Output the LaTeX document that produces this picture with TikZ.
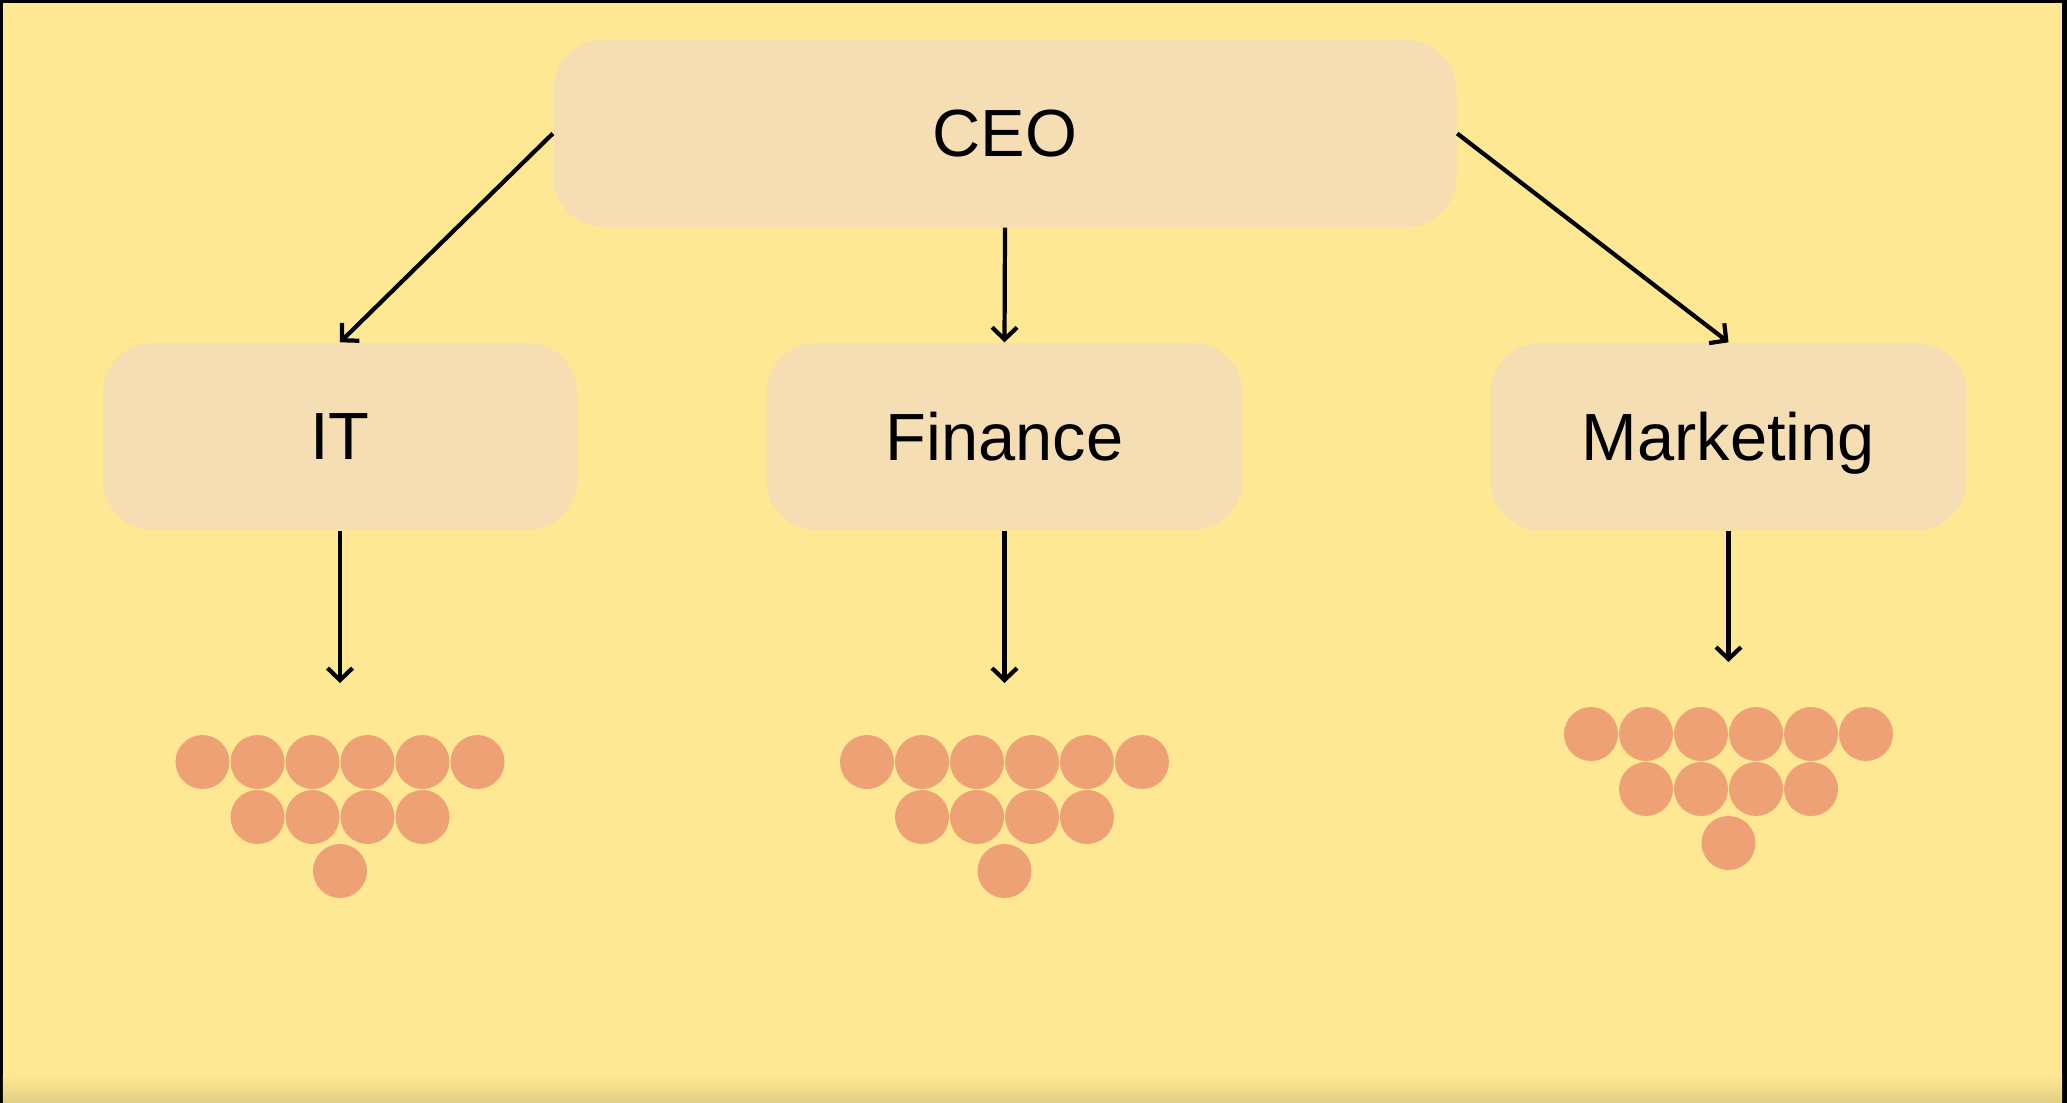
\documentclass[tikz,border=0pt]{standalone}
\usepackage{fontspec}
\setmainfont{Liberation Sans}
\usepackage{tikz}
\usetikzlibrary{arrows.meta, positioning, calc}
\usepackage{xcolor}

\definecolor{bgyellow}{RGB}{255,232,147}
\definecolor{bgshade}{RGB}{224,206,132}
\definecolor{boxwheat}{RGB}{245,222,179}
\definecolor{dotorange}{RGB}{237,161,116}

\begin{document}
\begin{tikzpicture}[
  dept/.style={rectangle, fill=boxwheat, rounded corners=0.5cm, minimum width=4.76cm, minimum height=1.87cm, align=center, text depth=0pt, font=\fontsize{19}{23}\selectfont},
  arr/.style={-{Straight Barb[length=1.2mm, width=2.5mm]}, line width=1.2pt},
  member/.style={circle, fill=dotorange, minimum size=0.54cm, inner sep=0pt}
]

% Frame and Background
\fill[black] (0,0) rectangle (20.67,-11.03);
\fill[bgyellow] (0.03,-0.03) rectangle (20.62,-11.03);
\shade[top color=bgyellow, bottom color=bgshade] (0.03,-10.75) rectangle (20.62,-11.03);
\useasboundingbox (0,0) rectangle (20.67,-11.03);

% Top Node
\node[dept, minimum width=9.03cm] (ceo) at (10.05,-1.335) {CEO};

% Department Row
\node[dept, minimum width=4.74cm] (it) at (3.40,-4.365) {IT};
\node[dept] (finance) at (10.045,-4.365) {Finance};
\node[dept] (marketing) at (17.285,-4.365) {Marketing};

% Arrow Ends above the Teams
\coordinate (itend) at (3.40,-6.83);
\coordinate (financeend) at (10.045,-6.83);
\coordinate (marketingend) at (17.285,-6.62);

% CEO to Departments
\draw[arr] (ceo.west) -- (it.north);
\draw[arr] (ceo.south) -- (finance.north);
\draw[arr] (ceo.east) -- (marketing.north);

% Departments to Teams
\draw[arr] (it.south) -- (itend);
\draw[arr] (finance.south) -- (financeend);
\draw[arr] (marketing.south) -- (marketingend);

% Team Members: rows of 6, 4 and 1 under each arrow
\foreach \team/\top in {it/-0.79, finance/-0.79, marketing/-0.72} {
  \foreach \i in {1,...,6}
    \node[member] (\team-a\i) at ($(\team end)+({(\i-3.5)*0.55},\top)$) {};
  \foreach \i in {1,...,4}
    \node[member] (\team-b\i) at ($(\team end)+({(\i-2.5)*0.55},\top-0.55)$) {};
  \node[member] (\team-c1) at ($(\team end)+(0,\top-1.09)$) {};
}

\end{tikzpicture}
\end{document}
